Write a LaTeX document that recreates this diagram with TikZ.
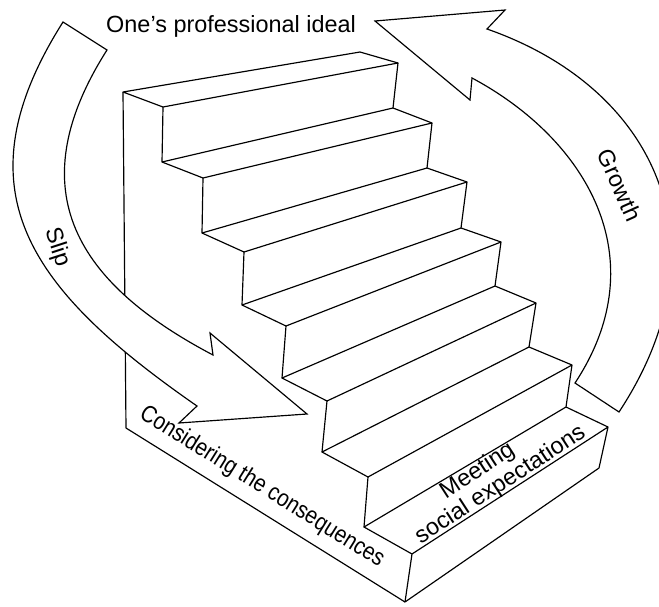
\documentclass[tikz,border=0pt]{standalone}
\usepackage{fontspec}
\setmainfont{Liberation Sans}
\newfontfamily\condSans[FakeStretch=0.86]{Liberation Sans}

\tikzset{
    stairLine/.style={line width=1pt, line join=round},
    arrowBand/.style={line width=1pt, draw=black, fill=white},
    stairText/.style={font=\fontsize{20}{20.5}\selectfont, inner sep=0pt},
}

\begin{document}
\begin{tikzpicture}[x=0.03cm, y=-0.03cm]
            \useasboundingbox (0, 0) rectangle (659, 607);
            \clip (0, 0) rectangle (659, 607);

            % stair corners: left top, left bottom, right top, right bottom
            \foreach \i/\ltx/\lty/\lbx/\lby/\rtx/\rty/\rbx/\rby in {
                    1/163/107/162/162/398/63/393/108,
                    2/203/178/202/233/432/123/427/168,
                    3/244/252/242/305/467/182/461/228,
                    4/286/326/282/378/501/242/495/286,
                    5/327/401/322/452/536/303/529/347,
                    6/368/477/364/527/572/365/566/407,
                    7/412/554/405/602/608/427/599/468}
                {
                    \coordinate (LT\i) at (\ltx, \lty);
                    \coordinate (LB\i) at (\lbx, \lby);
                    \coordinate (RT\i) at (\rtx, \rty);
                    \coordinate (RB\i) at (\rbx, \rby);
                }

            % wall and top
            \coordinate (wallTop) at (123, 92);
            \coordinate (topBack) at (360, 52);
            \coordinate (wallBottom) at (126, 428);

            \draw[stairLine] (LT1) -- (wallTop) -- (topBack) -- (RT1);
            \draw[stairLine] (wallTop) -- (wallBottom) -- (LB7);

            % risers
            \foreach \i in {1,...,7}
                \draw[stairLine] (LT\i) -- (RT\i) -- (RB\i) -- (LB\i) -- cycle;

            % treads
            \foreach \i in {1,...,6}
                {
                    \pgfmathtruncatemacro{\j}{\i + 1}
                    \draw[stairLine] (LB\i) -- (LT\j);
                    \draw[stairLine] (RB\i) -- (RT\j);
                }

            % arrows
            \filldraw[arrowBand] (63, 22) .. controls (-44, 191) and (30, 290) .. (197, 406)
                -- (179, 423) -- (307, 414) -- (210, 333) -- (213, 355)
                .. controls (80, 285) and (16, 193) .. (107, 50) -- cycle;
            \filldraw[arrowBand] (619, 412) .. controls (729, 245) and (656, 88) .. (487, 29)
                -- (505, 10) -- (375, 21) -- (470, 100) -- (472, 78)
                .. controls (586, 139) and (657.5, 258) .. (575, 383) -- cycle;

            % labels
            \node[stairText, anchor=base west] (ideal) at (106, 32) {One’s professional ideal};
            \node[stairText, rotate=-72] (slip) at (57, 247) {Slip};
            \node[stairText, rotate=-66] (growth) at (620, 185) {Growth};
            \node[stairText, font=\fontsize{20.5}{22}\selectfont\condSans, rotate=-32] (consider) at (262, 487) {Considering the consequences};
            \node[stairText, align=center, rotate=33] (meeting) at (494, 475) {Meeting\hspace*{20pt}\\social expectations};
\end{tikzpicture}
\end{document}
